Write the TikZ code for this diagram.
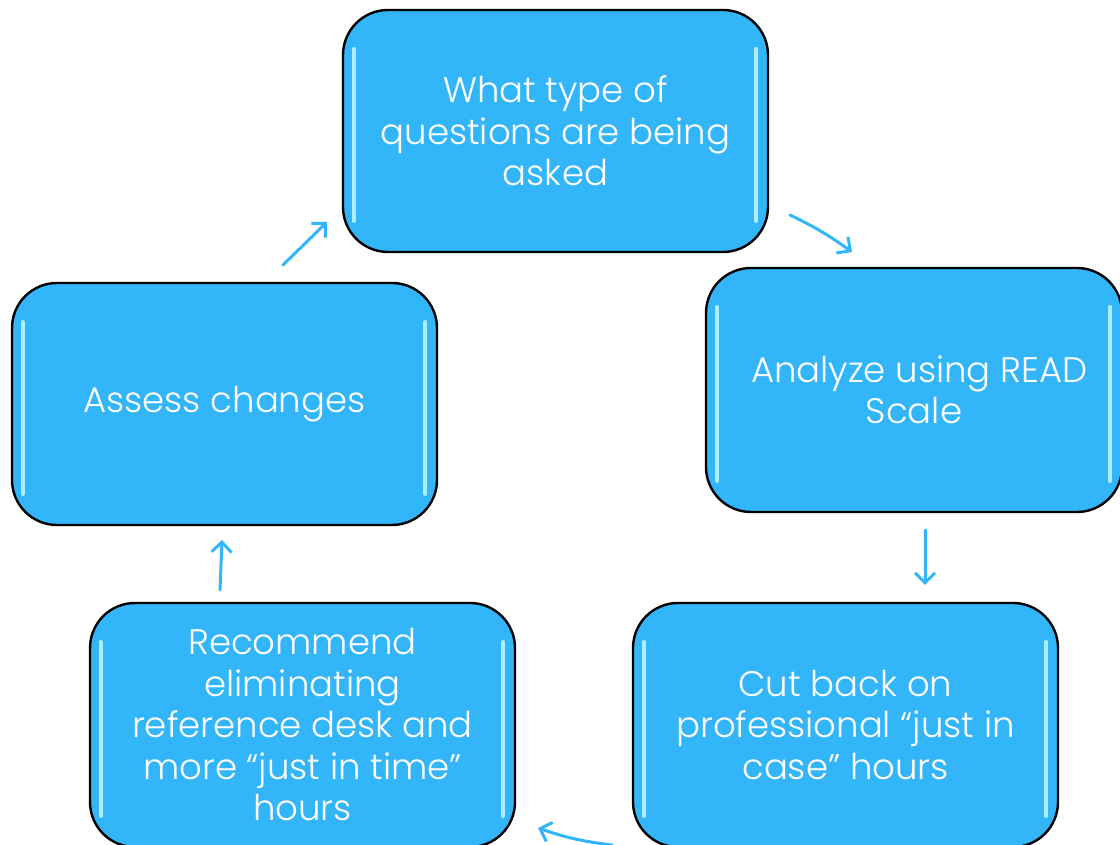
\documentclass[tikz,border=0pt]{standalone}
\usepackage{fontspec}
\setmainfont{Poppins Light}
\usetikzlibrary{arrows.meta}
\definecolor{boxblue}{HTML}{33B5F9}
\definecolor{glossc}{HTML}{C4F7FF}
\tikzset{
  box/.style={draw=black, line width=2.4pt, fill=boxblue, rounded corners=45pt,
    minimum width=425pt, minimum height=242pt, text=white, align=center,
    font=\fontsize{35.5}{41.5}\selectfont, inner sep=0pt},
  flow/.style={draw=boxblue, line width=3pt, line cap=round,
    -{Straight Barb[length=10pt,width=20pt,line width=3pt]}},
  gloss/.style={draw=glossc, line width=3.5pt, line cap=round, opacity=0.85}
}
\newcommand{\glossy}[1]{%
  \draw[gloss] ([shift={(12pt,-40pt)}]#1.north west) -- ([shift={(12pt,32pt)}]#1.south west);
  \draw[gloss] ([shift={(-13pt,-40pt)}]#1.north east) -- ([shift={(-13pt,32pt)}]#1.south east);
}
\begin{document}
\begin{tikzpicture}[x=1pt,y=1pt]
\useasboundingbox (0,0) rectangle (1120,845);
\node[box] (q) at (555.5,714) {What type of\\questions are being\\asked\hspace{1.6em}};
\node[box, minimum width=416pt, minimum height=244pt] (a) at (914,455) {\hspace{0.3em}Analyze using READ\\Scale};
\node[box, minimum height=244pt] (c) at (845.5,120) {Cut back on\\professional “just in\\case” hours};
\node[box, minimum height=244pt] (r) at (302.5,120) {Recommend\\eliminating\\reference desk and\\more “just in time”\\hours};
\node[box] (s) at (224.5,441) {Assess changes};
\glossy{q}\glossy{a}\glossy{c}\glossy{r}\glossy{s}
\coordinate (a1s) at (790,630); \coordinate (a1e) at (852,593);
\coordinate (a2s) at (925,315); \coordinate (a2e) at (925,260);
\coordinate (a3s) at (612,0);   \coordinate (a3e) at (538,17);
\coordinate (a4s) at (220,255); \coordinate (a4e) at (222,305);
\coordinate (a5s) at (283,580); \coordinate (a5e) at (327,623);
\draw[flow] (a1s) to[bend left=5] (a1e);
\draw[flow] (a2s) -- (a2e);
\draw[flow] (a3s) to[bend left=6] (a3e);
\draw[flow] (a4s) -- (a4e);
\draw[flow] (a5s) -- (a5e);
\end{tikzpicture}
\end{document}
